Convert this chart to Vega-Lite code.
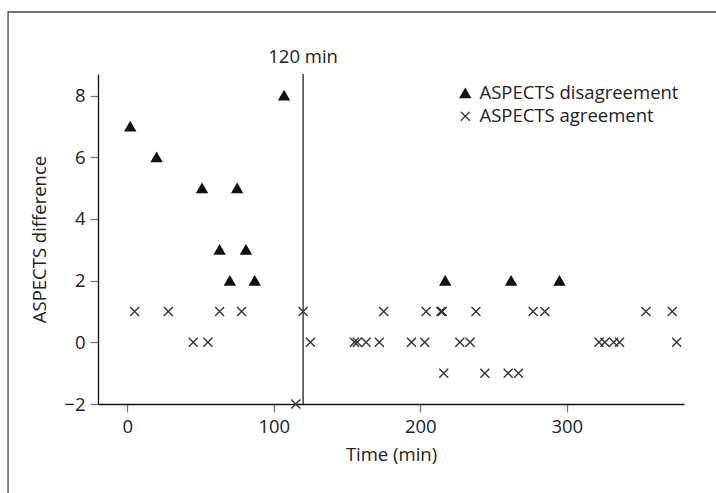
{
  "$schema": "https://vega.github.io/schema/vega-lite/v6.json",
  "width": 586,
  "height": 330,
  "autosize": "none",
  "padding": {"left": 98, "top": 74, "right": 32, "bottom": 89},
  "background": "white",
  "config": {
    "view": {"stroke": null},
    "font": "Open Sans",
    "axis": {
      "grid": false,
      "domainColor": "#111111",
      "domainWidth": 1.3,
      "tickColor": "#777777",
      "tickWidth": 1.3,
      "tickSize": 8,
      "labelFontSize": 18.5,
      "labelColor": "#222222",
      "labelPadding": 5,
      "titleFontSize": 18.5,
      "titleFontWeight": "normal",
      "titleColor": "#222222"
    },
    "legend": {
      "orient": "none",
      "legendX": 358,
      "legendY": 10,
      "padding": 0,
      "labelFontSize": 18.5,
      "labelColor": "#222222",
      "labelOffset": 5,
      "labelLimit": 400,
      "rowPadding": 4,
      "symbolStrokeWidth": 1.3,
      "symbolSize": 100
    }
  },
  "datasets": {
    "points": [
      {"t": 2, "diff": 7, "group": "ASPECTS disagreement"},
      {"t": 20, "diff": 6, "group": "ASPECTS disagreement"},
      {"t": 51, "diff": 5, "group": "ASPECTS disagreement"},
      {"t": 75, "diff": 5, "group": "ASPECTS disagreement"},
      {"t": 63, "diff": 3, "group": "ASPECTS disagreement"},
      {"t": 81, "diff": 3, "group": "ASPECTS disagreement"},
      {"t": 70, "diff": 2, "group": "ASPECTS disagreement"},
      {"t": 87, "diff": 2, "group": "ASPECTS disagreement"},
      {"t": 107, "diff": 8, "group": "ASPECTS disagreement"},
      {"t": 217, "diff": 2, "group": "ASPECTS disagreement"},
      {"t": 262, "diff": 2, "group": "ASPECTS disagreement"},
      {"t": 295, "diff": 2, "group": "ASPECTS disagreement"},
      {"t": 5, "diff": 1, "group": "ASPECTS agreement"},
      {"t": 28, "diff": 1, "group": "ASPECTS agreement"},
      {"t": 63, "diff": 1, "group": "ASPECTS agreement"},
      {"t": 78, "diff": 1, "group": "ASPECTS agreement"},
      {"t": 120, "diff": 1, "group": "ASPECTS agreement"},
      {"t": 175, "diff": 1, "group": "ASPECTS agreement"},
      {"t": 204, "diff": 1, "group": "ASPECTS agreement"},
      {"t": 214, "diff": 1, "group": "ASPECTS agreement"},
      {"t": 215, "diff": 1, "group": "ASPECTS agreement"},
      {"t": 238, "diff": 1, "group": "ASPECTS agreement"},
      {"t": 277, "diff": 1, "group": "ASPECTS agreement"},
      {"t": 285, "diff": 1, "group": "ASPECTS agreement"},
      {"t": 354, "diff": 1, "group": "ASPECTS agreement"},
      {"t": 372, "diff": 1, "group": "ASPECTS agreement"},
      {"t": 45, "diff": 0, "group": "ASPECTS agreement"},
      {"t": 55, "diff": 0, "group": "ASPECTS agreement"},
      {"t": 125, "diff": 0, "group": "ASPECTS agreement"},
      {"t": 155, "diff": 0, "group": "ASPECTS agreement"},
      {"t": 157, "diff": 0, "group": "ASPECTS agreement"},
      {"t": 163, "diff": 0, "group": "ASPECTS agreement"},
      {"t": 172, "diff": 0, "group": "ASPECTS agreement"},
      {"t": 194, "diff": 0, "group": "ASPECTS agreement"},
      {"t": 203, "diff": 0, "group": "ASPECTS agreement"},
      {"t": 227, "diff": 0, "group": "ASPECTS agreement"},
      {"t": 234, "diff": 0, "group": "ASPECTS agreement"},
      {"t": 322, "diff": 0, "group": "ASPECTS agreement"},
      {"t": 326, "diff": 0, "group": "ASPECTS agreement"},
      {"t": 332, "diff": 0, "group": "ASPECTS agreement"},
      {"t": 336, "diff": 0, "group": "ASPECTS agreement"},
      {"t": 375, "diff": 0, "group": "ASPECTS agreement"},
      {"t": 216, "diff": -1, "group": "ASPECTS agreement"},
      {"t": 244, "diff": -1, "group": "ASPECTS agreement"},
      {"t": 260, "diff": -1, "group": "ASPECTS agreement"},
      {"t": 267, "diff": -1, "group": "ASPECTS agreement"},
      {"t": 115, "diff": -2, "group": "ASPECTS agreement"}
    ]
  },
  "layer": [
    {
      "data": {"values": [{}]},
      "mark": {"type": "rect", "fillOpacity": 0, "stroke": "#444444", "strokeWidth": 1.3, "clip": false},
      "encoding": {
        "x": {"datum": -81.4, "type": "quantitative", "scale": {"domain": [-20, 380], "nice": false, "zero": false}},
        "x2": {"datum": 520},
        "y": {"datum": 10.71, "type": "quantitative", "scale": {"domain": [-2, 8.7], "nice": false, "zero": false}},
        "y2": {"datum": -8}
      }
    },
    {
      "data": {"values": [{}]},
      "mark": {"type": "rule", "color": "#111111", "strokeWidth": 1.2},
      "encoding": {
        "x": {"datum": 120, "type": "quantitative"}
      }
    },
    {
      "data": {"values": [{}]},
      "mark": {"type": "text", "text": "120 min", "fontSize": 18.5, "color": "#222222", "baseline": "middle", "align": "center"},
      "encoding": {
        "x": {"datum": 120, "type": "quantitative"},
        "y": {"datum": 9.25, "type": "quantitative"}
      }
    },
    {
      "data": {"name": "points"},
      "mark": {"type": "point", "filled": false, "size": 100, "strokeWidth": 1.4, "opacity": 1},
      "encoding": {
        "x": {
          "field": "t", "type": "quantitative",
          "scale": {"domain": [-20, 380], "nice": false, "zero": false},
          "axis": {"values": [0, 100, 200, 300], "title": "Time (min)", "titlePadding": 10}
        },
        "y": {
          "field": "diff", "type": "quantitative",
          "scale": {"domain": [-2, 8.7], "nice": false, "zero": false},
          "axis": {"values": [-2, 0, 2, 4, 6, 8], "title": "ASPECTS difference", "titlePadding": 14}
        },
        "shape": {
          "field": "group", "type": "nominal", "title": null,
          "scale": {"domain": ["ASPECTS disagreement", "ASPECTS agreement"], "range": ["triangle-up", "M-0.9,-0.9L0.9,0.9M0.9,-0.9L-0.9,0.9"]}
        },
        "fill": {
          "field": "group", "type": "nominal", "title": null,
          "scale": {"domain": ["ASPECTS disagreement", "ASPECTS agreement"], "range": ["#111111", "transparent"]}
        },
        "stroke": {
          "field": "group", "type": "nominal", "title": null,
          "scale": {"domain": ["ASPECTS disagreement", "ASPECTS agreement"], "range": ["#111111", "#333333"]}
        }
      }
    }
  ]
}
